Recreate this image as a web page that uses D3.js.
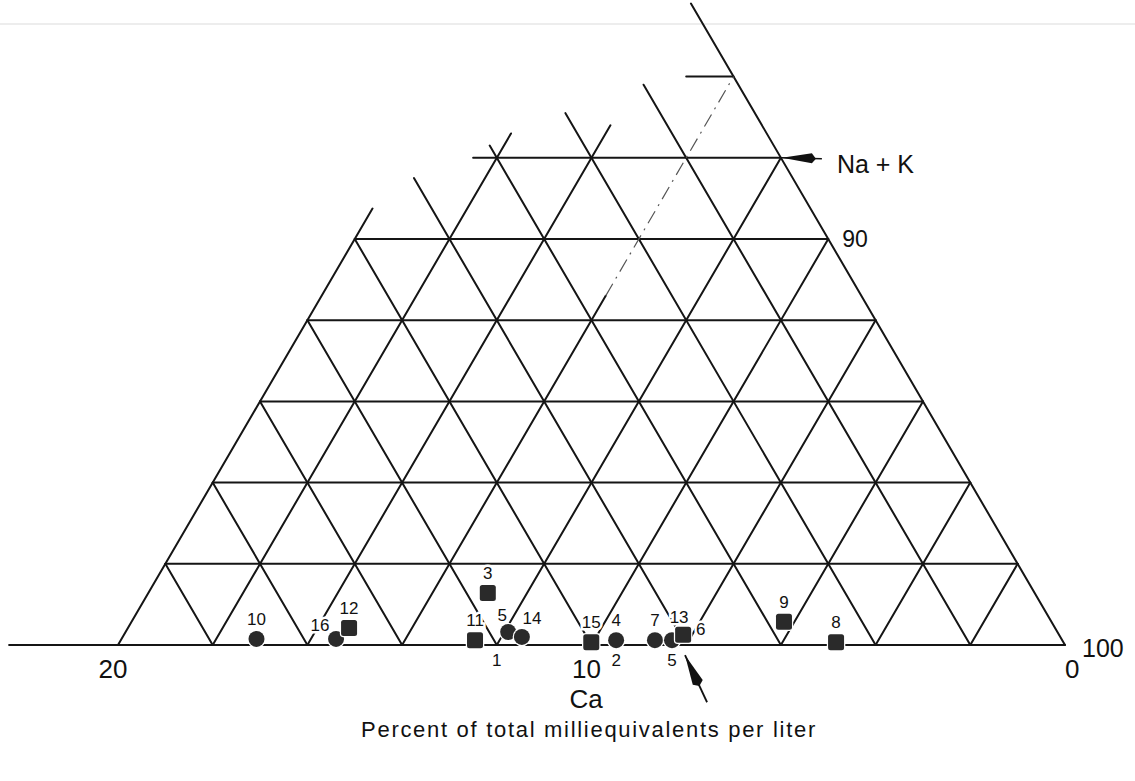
<!DOCTYPE html>
<html>
<head>
<meta charset="utf-8">
<script src="https://cdn.jsdelivr.net/npm/d3@7"></script>
<style>
  body { margin: 0; background: #fff; }
  svg { display: block; font-family: "Liberation Sans", Arial, Helvetica, sans-serif; }
</style>
</head>
<body>
<div id="vis"></div>
<script>
const WIDTH = 1135;
const HEIGHT = 781;

// horizontal lines (constant Mg), each runs from a start Ca to the Ca = 0 edge
const mgLevels = [0, 2, 4, 6, 8, 10, 12, 14];
const mgLineStartCa = [22.3, 18, 16, 14, 12, 10, 6.5, 1];

// lines of constant Ca (parallel to right edge), from the base up to a Mg value
const caLevels = [0, 2, 4, 6, 8, 10, 12, 14, 16, 18];
const caLineTopMg = [15.8, 13.8, 13.1, 12.3, 11.5, 10, 8, 6, 4, 2];

// lines of constant Na + K, from the base up to a Mg value
const nakLevels = [80, 82, 84, 86, 88, 90, 92, 94, 96, 98];
const nakLineTopMg = [10.75, 12.6, 12.8, 8.6, 12, 10, 8, 6, 4, 2];

// faint dash-dot continuation of one Na + K line
const dashedNak = 86;
const dashedMg = [8.6, 14];

// samples: percent Ca and Mg (Na + K is the rest)
const sampleIds = ["10", "16", "12", "11", "1", "3", "5", "14", "15", "4", "2", "7", "5", "13", "6", "9", "8"];
const sampleCa = [17.0, 15.32, 14.91, 12.4, 12.0, 11.55, 11.6, 11.37, 9.97, 9.42, 9.42, 8.6, 8.24, 8.05, 7.94, 5.65, 4.8];
const sampleMg = [0.15, 0.15, 0.42, 0.12, 0, 1.28, 0.32, 0.2, 0.07, 0.12, 0.12, 0.12, 0.12, 0.2, 0.25, 0.57, 0.07];
const sampleShape = ["circle", "circle", "square", "square", "none", "square", "circle", "circle", "square", "circle", "none", "circle", "circle", "none", "square", "square", "square"];
const sampleLabelSide = ["n", "nw", "n", "n", "s", "n", "nnw", "ne", "n", "n", "s", "n", "s", "n", "e", "n", "n"];

// tick labels
const caTickValues = [20, 10, 0];
const caTickLabels = ["20", "10", "0"];
const nakTickMg = [0, 10];
const nakTickLabels = ["100", "90"];

// scales: Ca along the base, Mg upward
const caX = d3.scaleLinear().domain([0, 20]).range([1065, 118]);
const mgY = d3.scaleLinear().domain([0, 10]).range([645, 239]);
const px = (ca, mg) => caX(ca + mg / 2);
const py = (mg) => mgY(mg);

const svg = d3
  .select("#vis")
  .append("svg")
  .attr("width", WIDTH)
  .attr("height", HEIGHT);

// scan edge line at the top
svg
  .append("line")
  .attr("x1", 0)
  .attr("x2", WIDTH)
  .attr("y1", 24)
  .attr("y2", 24)
  .attr("stroke", "#dcdcdc")
  .attr("stroke-width", 1.2);

// build the grid segments
const segments = [];
mgLevels.forEach((mg, i) => {
  segments.push([[mgLineStartCa[i], mg], [0, mg]]);
});
caLevels.forEach((ca, i) => {
  segments.push([[ca, 0], [ca, caLineTopMg[i]]]);
});
nakLevels.forEach((nak, i) => {
  const top = nakLineTopMg[i];
  segments.push([[100 - nak, 0], [100 - nak - top, top]]);
});

const grid = svg.append("g").attr("class", "grid");

grid
  .selectAll("line")
  .data(segments)
  .enter()
  .append("line")
  .attr("x1", (d) => px(d[0][0], d[0][1]))
  .attr("y1", (d) => py(d[0][1]))
  .attr("x2", (d) => px(d[1][0], d[1][1]))
  .attr("y2", (d) => py(d[1][1]))
  .attr("stroke", "#151515")
  .attr("stroke-width", 2)
  .attr("stroke-linecap", "round");

grid
  .append("line")
  .attr("x1", px(100 - dashedNak - dashedMg[0], dashedMg[0]))
  .attr("y1", py(dashedMg[0]))
  .attr("x2", px(100 - dashedNak - dashedMg[1], dashedMg[1]))
  .attr("y2", py(dashedMg[1]))
  .attr("stroke", "#555")
  .attr("stroke-width", 1.2)
  .attr("stroke-dasharray", "14 6 2 6");

// samples
const samples = sampleIds.map((id, i) => ({
  id: id,
  ca: sampleCa[i],
  mg: sampleMg[i],
  shape: sampleShape[i],
  side: sampleLabelSide[i],
}));

const marks = svg.append("g").attr("class", "samples");

samples.forEach((d) => {
  const x = px(d.ca, d.mg);
  const y = py(d.mg);
  if (d.shape === "circle") {
    marks
      .append("circle")
      .attr("cx", x)
      .attr("cy", y)
      .attr("r", 8)
      .attr("fill", "#2a2a2a")
      .attr("stroke", "#fff")
      .attr("stroke-width", 2.5)
      .attr("paint-order", "stroke");
  } else if (d.shape === "square") {
    marks
      .append("rect")
      .attr("x", x - 8)
      .attr("y", y - 8)
      .attr("width", 16)
      .attr("height", 16)
      .attr("rx", 2.5)
      .attr("fill", "#2a2a2a")
      .attr("stroke", "#fff")
      .attr("stroke-width", 2.5)
      .attr("paint-order", "stroke");
  }
});

// sample labels
function labelPos(d) {
  const x = px(d.ca, d.mg);
  const y = py(d.mg);
  if (d.side === "s") return [x, py(0) + 21, "middle"];
  if (d.side === "nw") return [x - 16, y - 8, "middle"];
  if (d.side === "nnw") return [x - 6, y - 11, "middle"];
  if (d.side === "ne") return [x + 10, y - 13, "middle"];
  if (d.side === "e") return [x + 13, y, "start"];
  return [x, y - 14, "middle"];
}

svg
  .append("g")
  .selectAll("text")
  .data(samples)
  .enter()
  .append("text")
  .attr("x", (d) => labelPos(d)[0])
  .attr("y", (d) => labelPos(d)[1])
  .attr("text-anchor", (d) => labelPos(d)[2])
  .attr("font-size", 17)
  .attr("fill", "#111")
  .attr("stroke", "#fff")
  .attr("stroke-width", 5)
  .attr("paint-order", "stroke")
  .text((d) => d.id);

// Ca tick labels along the base
svg
  .append("g")
  .selectAll("text")
  .data(caTickValues)
  .enter()
  .append("text")
  .attr("x", (d) => (d === 0 ? caX(d) : caX(d) - 5))
  .attr("y", py(0) + 33)
  .attr("text-anchor", (d) => (d === 0 ? "start" : "middle"))
  .attr("font-size", 26)
  .attr("fill", "#111")
  .text((d, i) => caTickLabels[i]);

// Na + K tick labels along the right edge
svg
  .append("g")
  .selectAll("text")
  .data(nakTickMg)
  .enter()
  .append("text")
  .attr("x", (d) => px(0, d) + (d === 0 ? 17 : 14))
  .attr("y", (d) => py(d) + (d === 0 ? 12 : 8))
  .attr("font-size", (d) => (d === 0 ? 25 : 23))
  .attr("fill", "#111")
  .text((d, i) => nakTickLabels[i]);

// Na + K arrow and label
const nx = px(0, 12);
const ny = py(12);
svg
  .append("line")
  .attr("x1", nx)
  .attr("y1", ny)
  .attr("x2", nx + 41)
  .attr("y2", ny + 1)
  .attr("stroke", "#111")
  .attr("stroke-width", 1.6);
svg
  .append("path")
  .attr("d", `M${nx + 1},${ny} L${nx + 31},${ny - 4.5} L${nx + 35},${ny + 1} L${nx + 31},${ny + 5.5} Z`)
  .attr("fill", "#111");
svg
  .append("text")
  .attr("x", nx + 56)
  .attr("y", ny + 15)
  .attr("font-size", 25)
  .attr("fill", "#111")
  .text("Na + K");

// arrow pointing at the base
const ax = px(8.15, -0.25);
const ay = py(-0.25);
const ang = Math.atan2(47, 22);
const ux = Math.cos(ang);
const uy = Math.sin(ang);
svg
  .append("line")
  .attr("x1", ax)
  .attr("y1", ay)
  .attr("x2", ax + ux * 52)
  .attr("y2", ay + uy * 52)
  .attr("stroke", "#111")
  .attr("stroke-width", 1.8);
svg
  .append("path")
  .attr(
    "d",
    `M${ax},${ay} L${ax + ux * 30 - uy * 5.5},${ay + uy * 30 + ux * 5.5} L${ax + ux * 34},${ay + uy * 34} L${ax + ux * 30 + uy * 5.5},${ay + uy * 30 - ux * 5.5} Z`
  )
  .attr("fill", "#111");

// axis titles
svg
  .append("text")
  .attr("x", 586)
  .attr("y", 708)
  .attr("text-anchor", "middle")
  .attr("font-size", 26)
  .attr("fill", "#111")
  .text("Ca");

svg
  .append("text")
  .attr("x", 589)
  .attr("y", 737)
  .attr("text-anchor", "middle")
  .attr("font-size", 22)
  .attr("letter-spacing", 1.7)
  .attr("fill", "#111")
  .text("Percent of total milliequivalents per liter");
</script>
</body>
</html>
